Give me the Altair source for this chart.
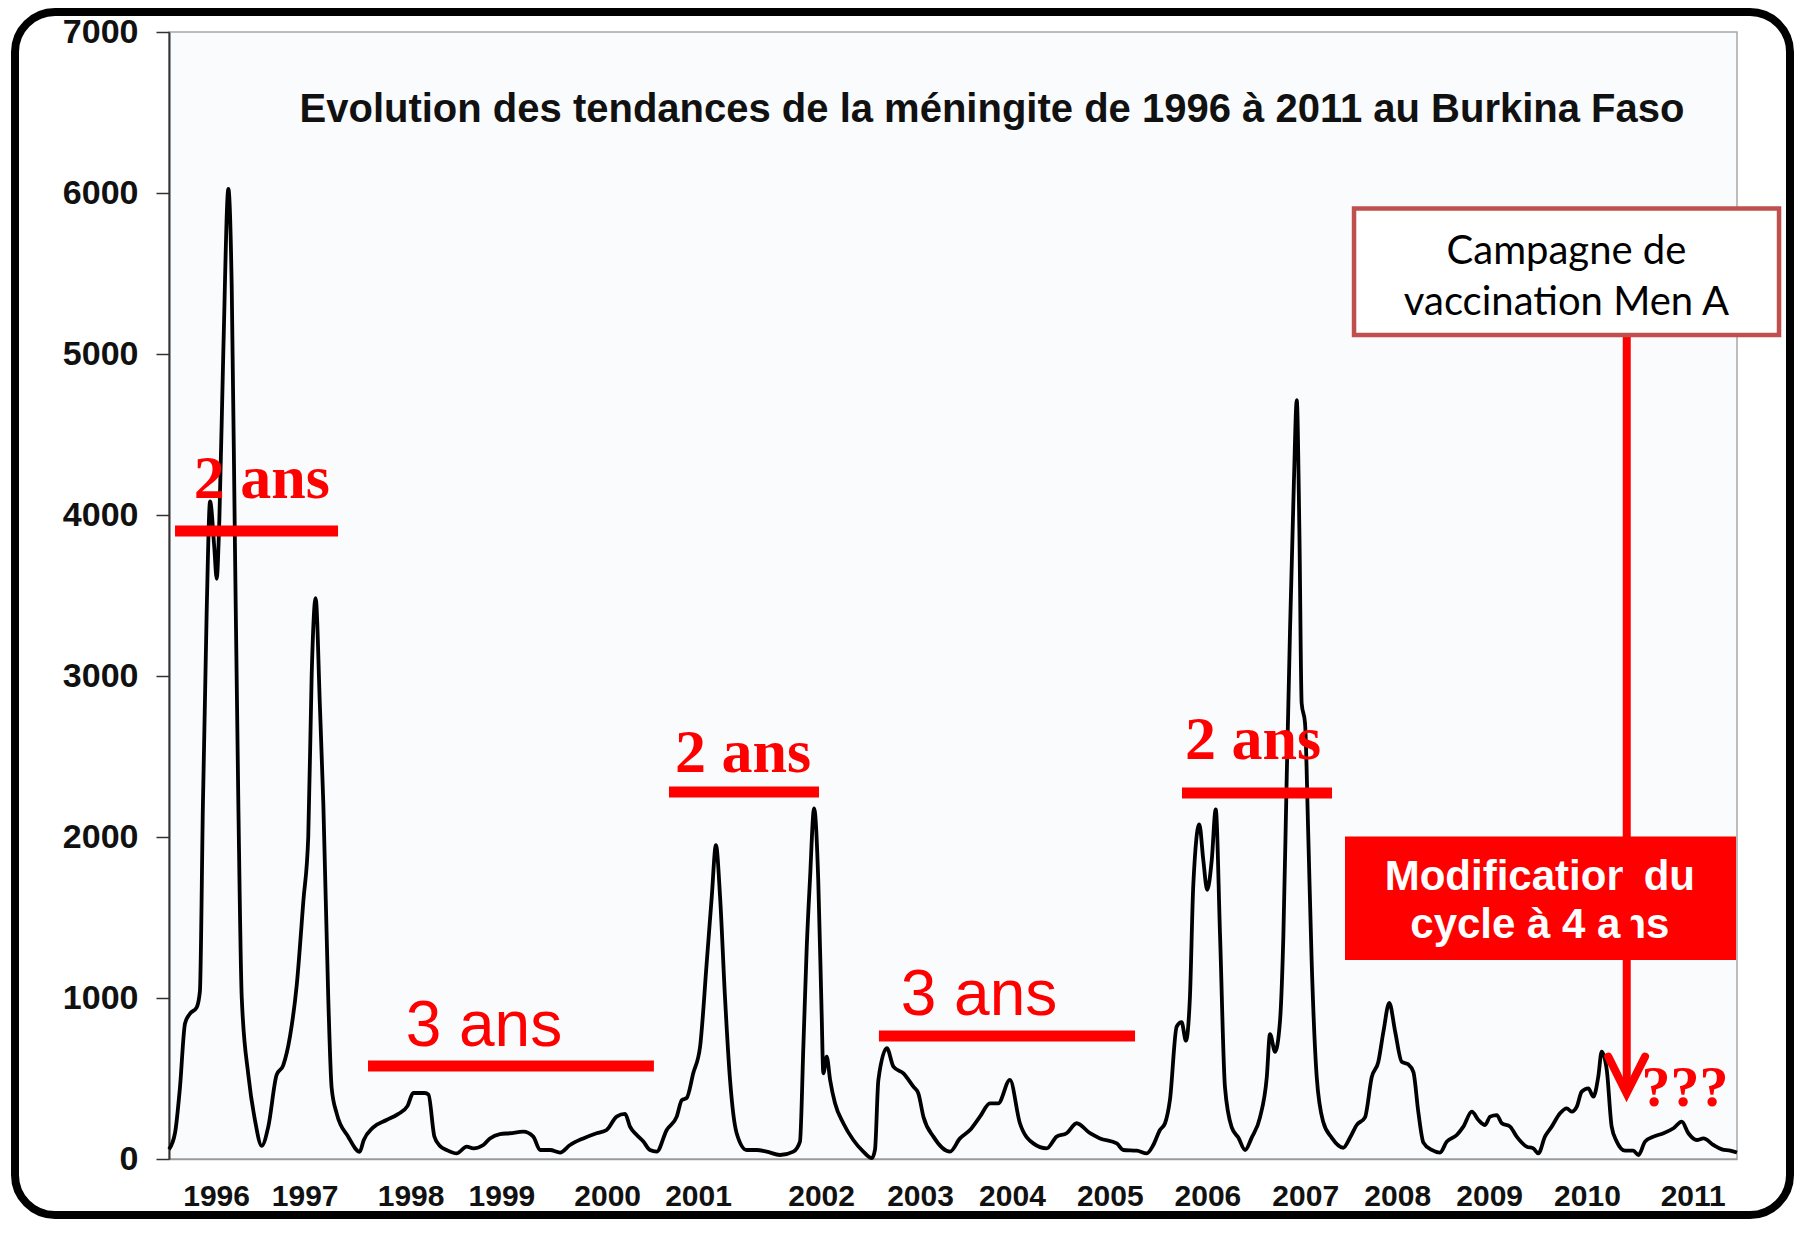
import altair as alt
import pandas as pd

# ---------------- data ----------------
semaine = [0, 3.2, 5.8, 8.5, 11.1, 14.7, 16.4, 18.0, 20.0, 21.8, 24.0, 25.3, 26.7, 28.8, 31.5, 33.3,
           35.0, 36.8, 38.6, 42.1, 45.6, 49.2, 52.7, 57.1, 60.6, 64.2, 67.8, 71.3, 73.9, 75.7, 77.8,
           80.1, 81.9, 84.5, 86.3, 89.0, 95.0, 101.2, 103.3, 108.2, 115.4, 121.5, 126.6, 129.6, 135.7,
           137.7, 140.8, 143.8, 147.3, 152.6, 158.0, 161.5, 166.8, 170.3, 175.6, 180.9, 188.0, 193.3,
           196.9, 202.2, 207.5, 212.8, 219.8, 226.9, 232.2, 237.5, 242.0, 244.6, 248.2, 251.7, 255.2,
           258.8, 264.1, 269.4, 272.1, 274.7, 278.2, 281.8, 285.3, 288.0, 290.2, 292.4, 295.0, 297.7,
           301.2, 306.5, 311.8, 317.1, 324.2, 331.3, 334.8, 336.6, 338.4, 340.1, 342.3, 344.5, 346.3,
           347.2, 349.0, 350.8, 353.4, 357.8, 363.1, 368.4, 372.9, 374.6, 376.4, 380.9, 384.4, 389.7,
           395.0, 397.6, 400.3, 405.6, 414.4, 419.7, 425.0, 430.3, 435.6, 440.0, 446.2, 451.5, 458.6,
           465.7, 471.0, 476.3, 481.6, 488.7, 494.0, 502.9, 506.4, 513.5, 518.8, 522.3, 525.8, 528.5,
           531.1, 534.7, 537.3, 539.6, 541.7, 543.5, 546.7, 548.8, 550.9, 553.3, 555.4, 557.7, 560.3,
           563.9, 567.4, 571.0, 574.5, 578.9, 582.5, 584.2, 586.9, 589.5, 591.3, 593.0, 594.8, 596.9,
           598.4, 599.8, 601.0, 602.8, 604.5, 606.3, 609.0, 612.5, 616.9, 623.1, 626.7, 630.2, 634.6,
           638.2, 641.7, 644.4, 647.5, 650.6, 654.1, 657.6, 660.3, 662.9, 665.6, 670.0, 674.4, 678.0,
           683.3, 686.8, 691.3, 694.8, 698.3, 701.0, 704.5, 707.2, 711.6, 715.1, 720.4, 723.9, 726.6,
           730.1, 733.7, 738.1, 741.6, 744.3, 747.0, 749.6, 753.1, 755.8, 758.4, 760.2, 762.9, 765.5,
           768.2, 772.6, 777.0, 779.7, 783.2, 787.7, 793.0, 798.3, 802.7, 806.2, 810.7, 814.2, 819.5,
           824.0, 828.4, 832.0]
cas = [60, 162, 442, 842, 902, 942, 1042, 2203, 3404, 4084, 3804, 3604, 3964, 5004, 6025, 5404,
       3804, 2203, 1002, 522, 242, 82, 202, 522, 582, 762, 1083, 1603, 2003, 3003, 3484,
       2803, 2203, 1002, 442, 282, 140, 45, 117, 195, 242, 279, 330, 410, 410,
       400, 140, 81, 56, 35, 77, 66, 87, 128, 155, 160, 170, 139,
       56, 56, 40, 87, 128, 160, 180, 263, 280, 201, 149, 108, 56,
       46, 180, 263, 366, 379, 534, 698, 1216, 1630, 1950, 1630, 1008, 491,
       160, 56, 56, 46, 25, 46, 108, 698, 1319, 1733, 2178, 1733, 905,
       532, 636, 491, 346, 222, 118, 46, 5, 56, 491, 688, 574, 532,
       449, 408, 263, 139, 46, 128, 180, 263, 346, 346, 491, 222, 97,
       66, 139, 160, 222, 160, 128, 97, 56, 52, 35, 87, 180, 222,
       366, 823, 850, 735, 1000, 1702, 2078, 1858, 1671, 1858, 2172, 1389, 447,
       196, 133, 56, 133, 259, 509, 776, 666, 855, 1389, 2329, 3270, 4211,
       4714, 3898, 2832, 2706, 2016, 1231, 509, 228, 133, 70, 133, 211, 259,
       509, 604, 792, 970, 792, 604, 588, 540, 292, 102, 56, 40, 108,
       149, 201, 294, 242, 211, 263, 273, 222, 201, 139, 77, 66, 35,
       139, 201, 284, 315, 294, 325, 418, 439, 387, 512, 667, 553, 201,
       108, 52, 52, 25, 108, 139, 160, 191, 232, 160, 118, 128, 87,
       60, 52, 40]

annees = ["1996", "1997", "1998", "1999", "2000", "2001", "2002", "2003",
          "2004", "2005", "2006", "2007", "2008", "2009", "2010", "2011"]
annees_pos = [25.0, 72.0, 128.2, 176.4, 232.5, 280.7, 346.0, 398.5,
              447.3, 499.2, 551.0, 602.9, 651.7, 700.5, 752.4, 808.5]
y_ticks = [0, 1000, 2000, 3000, 4000, 5000, 6000, 7000]

titre = "Evolution des tendances de la méningite de 1996 à 2011 au Burkina Faso"

# cycle segments (start week, end week, level)
seg_debut = [3.2, 105.6, 265.3, 376.7, 537.5]
seg_fin = [89.7, 257.3, 344.9, 512.6, 617.1]
seg_niveau = [3901, 578, 2280, 764, 2273]

txt2_label = ["2 ans", "2 ans", "2 ans"]
txt2_w = [49.3, 304.6, 575.2]
txt2_v = [4106, 2404, 2484]

txt3_label = ["3 ans", "3 ans"]
txt3_w = [167.1, 429.8]
txt3_v = [702, 894]

campagne_lignes = ["Campagne de", "vaccination Men A"]
campagne_w = [741.5, 741.5]
campagne_v = [5559, 5245]
campagne_box = dict(w1=628.8, w2=854.3, v1=5903, v2=5118)

modif_lignes = ["Modification du", "cycle à 4 ans"]
modif_w = [727.4, 727.4]
modif_v = [1671, 1375]
modif_box = dict(w1=624.0, w2=831.5, v1=2003, v2=1236)

fleche_w = 773.5
fleche_haut = 5118
fleche_bas = 430
pointe_w = [763.7, 773.4, 783.2]
pointe_v = [636, 408, 636]

questions = "???"
questions_w = 804.4
questions_v = 329

# ---------------- chart ----------------
W, H = 1568, 1127
XD = [0, 832]
YD = [0, 7000]

label_expr = " : ".join(
    f"abs(datum.value - {p}) < 0.01 ? '{l}'" for p, l in zip(annees_pos, annees)
) + " : ''"

AX_X = alt.Axis(values=annees_pos, labelExpr=label_expr, ticks=False, tickSize=0,
                domainColor="#9A9A9A", domainWidth=1.5, grid=False, title=None,
                labelFont="Liberation Sans", labelFontSize=30, labelFontWeight="bold",
                labelColor="#111111", labelPadding=46, labelBaseline="alphabetic",
                labelAngle=0, labelFlush=False, labelOverlap=False)
AX_Y = alt.Axis(values=y_ticks, format="d", domainColor="#333333", domainWidth=2,
                tickColor="#333333", tickSize=13, tickWidth=1.5, grid=False, title=None,
                labelFont="Liberation Sans", labelFontSize=34, labelFontWeight="bold",
                labelColor="#111111", labelPadding=18, labelFlush=False,
                labelOverlap=False)
SX = alt.Scale(domain=XD, nice=False, zero=False)
SY = alt.Scale(domain=YD, nice=False)


def xs(field):
    return alt.X(field, type="quantitative", scale=SX, axis=AX_X, title=None)


def ys(field):
    return alt.Y(field, type="quantitative", scale=SY, axis=AX_Y, title=None)


df = pd.DataFrame({"semaine": semaine, "cas": cas})

ligne = alt.Chart(df).mark_line(color="#000000", strokeWidth=3.8, interpolate="monotone").encode(
    x=xs("semaine"), y=ys("cas"))

# outer rounded frame (decoration, pixel placed)
cadre = alt.Chart(pd.DataFrame({"k": [0]})).mark_rect(
    fillOpacity=0, stroke="#000000", strokeWidth=8, cornerRadius=40
).encode(x=alt.value(-154), x2=alt.value(1621), y=alt.value(-20), y2=alt.value(1183))

titre_layer = alt.Chart(pd.DataFrame({"t": [titre]})).mark_text(
    font="Liberation Sans", fontSize=40, fontWeight="bold", color="#111111",
    align="center", baseline="alphabetic"
).encode(x=alt.value(823), y=alt.value(90), text="t:N")

seg_df = pd.DataFrame({"d": seg_debut, "f": seg_fin, "n": seg_niveau})
segments = alt.Chart(seg_df).mark_rule(color="#FF0000", strokeWidth=11).encode(
    x=xs("d"), x2="f", y=ys("n"))

t2 = alt.Chart(pd.DataFrame({"w": txt2_w, "v": txt2_v, "t": txt2_label})).mark_text(
    font="Liberation Serif", fontSize=62, fontWeight="bold", color="#FF0000",
    align="center", baseline="alphabetic"
).encode(x=xs("w"), y=ys("v"), text="t:N")

t3 = alt.Chart(pd.DataFrame({"w": txt3_w, "v": txt3_v, "t": txt3_label})).mark_text(
    font="Liberation Sans", fontSize=64, color="#FF0000",
    align="center", baseline="alphabetic"
).encode(x=xs("w"), y=ys("v"), text="t:N")

modif_rect = alt.Chart(pd.DataFrame([modif_box])).mark_rect(color="#FF0000").encode(
    x=xs("w1"), x2="w2", y=ys("v1"), y2="v2")

modif_txt = alt.Chart(pd.DataFrame({"w": modif_w, "v": modif_v, "t": modif_lignes})).mark_text(
    font="Liberation Sans", fontSize=42, fontWeight="bold", color="#FFFFFF",
    align="center", baseline="alphabetic"
).encode(x=xs("w"), y=ys("v"), text="t:N")

fleche = alt.Chart(pd.DataFrame({"w": [fleche_w], "a": [fleche_haut], "b": [fleche_bas]})).mark_rule(
    color="#FF0000", strokeWidth=8
).encode(x=xs("w"), y=ys("a"), y2="b")

pointe = alt.Chart(pd.DataFrame({"w": pointe_w, "v": pointe_v, "o": [0, 1, 2]})).mark_line(
    color="#FF0000", strokeWidth=8, strokeJoin="miter", strokeCap="round"
).encode(x=xs("w"), y=ys("v"), order="o:Q")

campagne_rect = alt.Chart(pd.DataFrame([campagne_box])).mark_rect(
    fill="#FFFFFF", stroke="#C0504D", strokeWidth=4.5
).encode(x=xs("w1"), x2="w2", y=ys("v1"), y2="v2")

campagne_txt = alt.Chart(pd.DataFrame({"w": campagne_w, "v": campagne_v, "t": campagne_lignes})).mark_text(
    font="Lato", fontSize=40, color="#000000", align="center", baseline="alphabetic"
).encode(x=xs("w"), y=ys("v"), text="t:N")

qq = alt.Chart(pd.DataFrame({"w": [questions_w], "v": [questions_v], "t": [questions]})).mark_text(
    font="Liberation Serif", fontSize=58, fontWeight="bold", color="#FF0000",
    align="center", baseline="alphabetic"
).encode(x=xs("w"), y=ys("v"), text="t:N")

chart = alt.layer(
    ligne, cadre, titre_layer, segments, t2, t3, modif_rect, modif_txt,
    fleche, pointe, campagne_rect, campagne_txt, qq
).properties(
    width=W, height=H,
    padding={"left": 161, "top": 24, "right": 58, "bottom": 62},
    autosize=alt.AutoSizeParams(type="none"),
    background="#FFFFFF",
).configure_view(
    fill="#F9FBFD", stroke="#A8A8A8", strokeWidth=1.5
)

chart.save("out.html", embed_options={"renderer": "svg", "actions": False})
